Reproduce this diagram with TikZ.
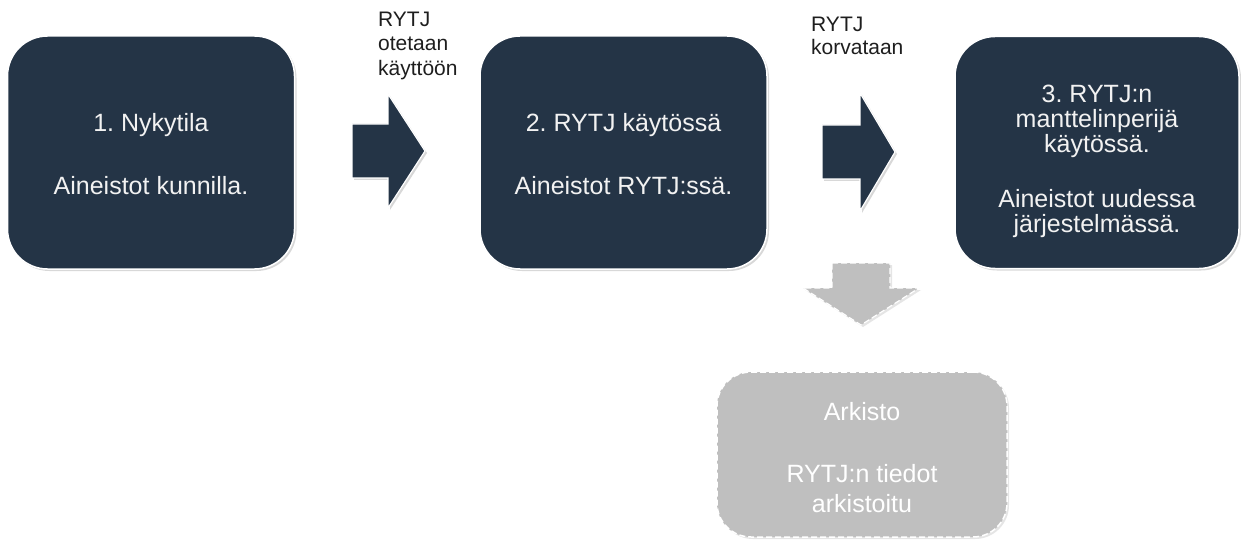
\documentclass[tikz,border=0pt]{standalone}
\usepackage{fontspec}
\setmainfont{Liberation Sans}
\usetikzlibrary{shadows}
\definecolor{navy}{RGB}{36,52,70}
\definecolor{archgray}{RGB}{191,191,191}
\definecolor{boxtext}{RGB}{242,242,242}
\definecolor{labeltext}{RGB}{30,30,30}
\frenchspacing
\begin{document}
\begin{tikzpicture}[x=1pt,y=-1pt,
  stagebox/.style={rectangle, draw=white, line width=1.5pt, fill=navy,
    rounded corners=40pt, inner sep=0pt,
    drop shadow={opacity=0.3, shadow xshift=2pt, shadow yshift=-2pt}},
  archbox/.style={rectangle, draw=white, line width=1.5pt, fill=archgray,
    dash pattern=on 6pt off 3pt, rounded corners=34pt, inner sep=0pt,
    drop shadow={opacity=0.2, shadow xshift=2pt, shadow yshift=-2pt}},
  blockarrow/.style={draw=white, line width=1.2pt, fill=navy, line join=miter,
    drop shadow={opacity=0.3, shadow xshift=2pt, shadow yshift=-2pt}},
  grayarrow/.style={draw=white, line width=1.2pt, fill=archgray,
    dash pattern=on 6pt off 3pt,
    drop shadow={opacity=0.2, shadow xshift=2pt, shadow yshift=-2pt}},
  boxtxt/.style={inner sep=0pt, align=center, text=boxtext,
    font=\fontsize{25}{25}\selectfont},
  archtxt/.style={inner sep=0pt, align=center, text=white,
    font=\fontsize{25}{30}\selectfont},
  steplabel/.style={inner sep=0pt, align=left, text=labeltext, anchor=north west}
]
\useasboundingbox (0,0) rectangle (1241,548);
\fill[white] (0,0) rectangle (1241,548);

% stage boxes
\node[stagebox, minimum width=287pt, minimum height=233pt] (b1) at (151,152.5) {};
\node[stagebox, minimum width=287pt, minimum height=233pt] (b2) at (623.5,152.5) {};
\node[stagebox, minimum width=284pt, minimum height=232pt] (b3) at (1097,152.5) {};
\node[archbox, minimum width=290pt, minimum height=165pt] (ark) at (862,454.5) {};

% texts in boxes
\node[boxtxt, anchor=north] (t1) at (151,112.8) {1. Nykytila\\[38.6pt]Aineistot kunnilla.};
\node[boxtxt, anchor=north] (t2) at (623.5,112.8) {2. RYTJ käytössä\\[38.6pt]Aineistot RYTJ:ssä.};
\node[boxtxt, anchor=north] (t3) at (1097,84.8) {3. RYTJ:n\\manttelinperijä\\käytössä.\\[30pt]Aineistot uudessa\\järjestelmässä.};
\node[archtxt, anchor=north] (t4) at (862,402.1) {Arkisto\\[31.7pt]RYTJ:n tiedot\\arkistoitu};

% block arrows
\path[blockarrow] (352,124) -- (388,124) -- (388,94) -- (425,151) -- (388,208)
  -- (388,178) -- (352,178) -- cycle;
\path[blockarrow] (822,125) -- (860,125) -- (860,93) -- (895,152) -- (860,211)
  -- (860,179) -- (822,179) -- cycle;
\path[grayarrow] (832,263) -- (890,263) -- (890,288) -- (919,288) -- (861,325)
  -- (803,288) -- (832,288) -- cycle;

% arrow labels
\node[steplabel, font=\fontsize{21}{24.5}\selectfont] (l1) at (378,11.7)
  {RYTJ\\otetaan\\käyttöön};
\node[steplabel, font=\fontsize{21}{23.5}\selectfont] (l2) at (811,16.7)
  {RYTJ\\korvataan};
\end{tikzpicture}
\end{document}
